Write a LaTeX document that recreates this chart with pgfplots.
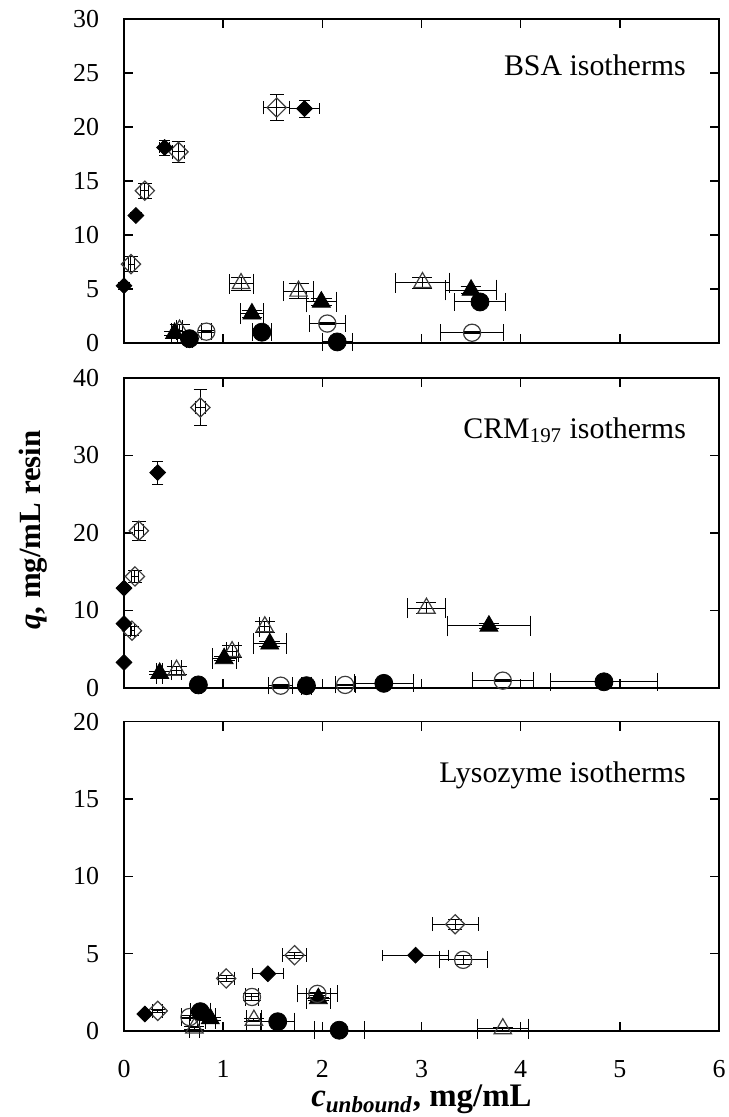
\documentclass[border=0pt]{standalone}
\usepackage{fontspec}
\setmainfont{Liberation Serif}
\usepackage{pgfplots}
\pgfplotsset{compat=1.18}
\usetikzlibrary{plotmarks}
\definecolor{opengray}{RGB}{60,60,60}
\pgfplotsset{
  panel/.style={
    width=297.5bp, scale only axis, xmin=0, xmax=6, xtick={0,1,2,3,4,5,6}, clip=false,
    axis line style={line width=0.9pt, black}, tick style={line width=0.8pt, black},
    major tick length=4.5bp, tick align=inside, xtick pos=both, ytick pos=both,
    ticklabel style={font=\fontsize{13}{15}\selectfont},
    yticklabel style={xshift=-9bp},
    /pgf/number format/assume math mode=true,
  },
  eb/.style={only marks, error bars/x dir=both, error bars/x explicit, error bars/y dir=both, error bars/y explicit,
    error bars/error bar style={line width=0.5pt, black}},
  odia/.style={eb, mark=square, mark size=3.4bp, mark options={rotate=45, draw=opengray, line width=0.6pt, fill=none}},
  fdia/.style={eb, mark=square*, mark size=2.8bp, mark options={rotate=45, draw=black, fill=black}},
  otri/.style={eb, mark=triangle, mark size=5bp, mark options={draw=opengray, line width=0.6pt, fill=none}},
  ftri/.style={eb, mark=triangle*, mark size=5.2bp, mark options={draw=black, fill=black}},
  ocir/.style={eb, mark=o, mark size=4.3bp, mark options={draw=opengray, line width=0.6pt, fill=none}},
  fcir/.style={eb, mark=*, mark size=4.5bp, mark options={draw=black, fill=black}},
}
\begin{document}
\begin{tikzpicture}
\useasboundingbox (-62bp,-43bp) rectangle (302.5bp,515.5bp);
% ---------------- BSA ----------------
\begin{axis}[panel, at={(0bp,344bp)}, height=162bp, ymin=0, ymax=30, ytick={0,5,10,15,20,25,30}, xticklabels={}]
\addplot[odia] table[x=x,y=y,x error=ex,y error=ey,row sep=\\]{x y ex ey\\ 0.07 7.3 0.03 0.7\\ 0.21 14.1 0.04 0.7\\ 0.55 17.7 0.06 1.0\\ 1.54 21.8 0.13 1.2\\};
\addplot[fdia] table[x=x,y=y,x error=ex,y error=ey,row sep=\\]{x y ex ey\\ 0.00 5.3 0.00 0.3\\ 0.12 11.8 0.02 0.3\\ 0.41 18.1 0.05 0.7\\ 1.82 21.7 0.15 0.8\\};
\addplot[otri] table[x=x,y=y,x error=ex,y error=ey,row sep=\\]{x y ex ey\\ 0.56 1.2 0.03 0.5\\ 1.18 5.5 0.12 0.6\\ 1.76 4.8 0.15 0.7\\ 3.01 5.6 0.27 0.5\\};
\addplot[ftri] table[x=x,y=y,x error=ex,y error=ey,row sep=\\]{x y ex ey\\ 0.51 0.9 0.03 0.2\\ 1.29 2.7 0.12 0.3\\ 1.99 3.8 0.15 0.3\\ 3.50 4.9 0.26 0.3\\};
\addplot[ocir] table[x=x,y=y,x error=ex,y error=ey,row sep=\\]{x y ex ey\\ 0.83 1.05 0.05 0.1\\ 2.05 1.8 0.18 0.1\\ 3.51 0.95 0.32 0.1\\};
\addplot[fcir] table[x=x,y=y,x error=ex,y error=ey,row sep=\\]{x y ex ey\\ 0.66 0.4 0.03 0.1\\ 1.39 1.0 0.10 0.1\\ 2.15 0.1 0.15 0.1\\ 3.59 3.8 0.26 0.2\\};
\node[anchor=east, inner sep=0pt, font=\fontsize{15}{17}\selectfont] at (axis cs:5.67,25.7) {BSA isotherms};
\end{axis}
% ---------------- CRM197 ----------------
\begin{axis}[panel, at={(0bp,171.5bp)}, height=155bp, ymin=0, ymax=40, ytick={0,10,20,30,40}, xticklabels={}]
\addplot[odia] table[x=x,y=y,x error=ex,y error=ey,row sep=\\]{x y ex ey\\ 0.08 7.4 0.02 0.6\\ 0.11 14.4 0.04 0.8\\ 0.15 20.3 0.05 1.2\\ 0.77 36.2 0.05 2.3\\};
\addplot[fdia] table[x=x,y=y,x error=ex,y error=ey,row sep=\\]{x y ex ey\\ 0.00 3.3 0.00 0.2\\ 0.00 8.3 0.00 0.2\\ 0.00 12.9 0.00 0.2\\ 0.34 27.8 0.03 1.5\\};
\addplot[otri] table[x=x,y=y,x error=ex,y error=ey,row sep=\\]{x y ex ey\\ 0.53 2.3 0.05 0.5\\ 1.09 4.7 0.06 0.8\\ 1.42 7.9 0.05 0.7\\ 3.05 10.3 0.19 0.7\\};
\addplot[ftri] table[x=x,y=y,x error=ex,y error=ey,row sep=\\]{x y ex ey\\ 0.36 1.9 0.03 0.2\\ 1.01 3.8 0.12 0.3\\ 1.47 5.7 0.17 0.3\\ 3.68 8.0 0.42 0.3\\};
\addplot[ocir] table[x=x,y=y,x error=ex,y error=ey,row sep=\\]{x y ex ey\\ 1.58 0.3 0.12 0.1\\ 2.23 0.4 0.10 0.1\\ 3.82 0.95 0.31 0.1\\};
\addplot[fcir] table[x=x,y=y,x error=ex,y error=ey,row sep=\\]{x y ex ey\\ 0.75 0.4 0.03 0.1\\ 1.84 0.3 0.05 0.1\\ 2.62 0.6 0.30 0.1\\ 4.84 0.8 0.54 0.1\\};
\node[anchor=east, inner sep=0pt, font=\fontsize{15}{17}\selectfont] at (axis cs:5.67,33.3) {CRM\textsubscript{197} isotherms};
\end{axis}
% ---------------- Lysozyme ----------------
\begin{axis}[panel, at={(0bp,0bp)}, height=154.7bp, ymin=0, ymax=20, ytick={0,5,10,15,20},
  xticklabel style={yshift=-11bp},
  xlabel={\textbf{\textit{c}\textsubscript{\textit{unbound}}, mg/mL}},
  xlabel style={font=\fontsize{16.5}{18}\selectfont, yshift=3bp}]
\addplot[odia] table[x=x,y=y,x error=ex,y error=ey,row sep=\\]{x y ex ey\\ 0.34 1.3 0.05 0.1\\ 1.03 3.4 0.08 0.2\\ 1.72 4.9 0.12 0.2\\ 3.34 6.9 0.23 0.3\\};
\addplot[fdia] table[x=x,y=y,x error=ex,y error=ey,row sep=\\]{x y ex ey\\ 0.21 1.1 0.02 0.1\\ 1.45 3.7 0.16 0.1\\ 2.94 4.9 0.33 0.1\\};
\addplot[otri] table[x=x,y=y,x error=ex,y error=ey,row sep=\\]{x y ex ey\\ 0.71 0.2 0.05 0.1\\ 1.31 0.7 0.08 0.1\\ 3.82 0.15 0.26 0.1\\};
\addplot[ftri] table[x=x,y=y,x error=ex,y error=ey,row sep=\\]{x y ex ey\\ 0.87 0.8 0.05 0.1\\ 1.96 2.1 0.12 0.1\\};
\addplot[ocir] table[x=x,y=y,x error=ex,y error=ey,row sep=\\]{x y ex ey\\ 0.66 0.9 0.08 0.1\\ 1.29 2.2 0.07 0.2\\ 1.95 2.4 0.20 0.1\\ 3.42 4.6 0.24 0.3\\};
\addplot[fcir] table[x=x,y=y,x error=ex,y error=ey,row sep=\\]{x y ex ey\\ 0.77 1.25 0.10 0.1\\ 1.55 0.6 0.17 0.1\\ 2.17 0.05 0.25 0.1\\};
\node[anchor=east, inner sep=0pt, font=\fontsize{15}{17}\selectfont] at (axis cs:5.67,16.5) {Lysozyme isotherms};
\end{axis}
\node[rotate=90, font=\fontsize{15.5}{17}\selectfont\bfseries] at (-45.5bp,250.5bp) {\textit{q}, mg/mL resin};
\end{tikzpicture}
\end{document}
